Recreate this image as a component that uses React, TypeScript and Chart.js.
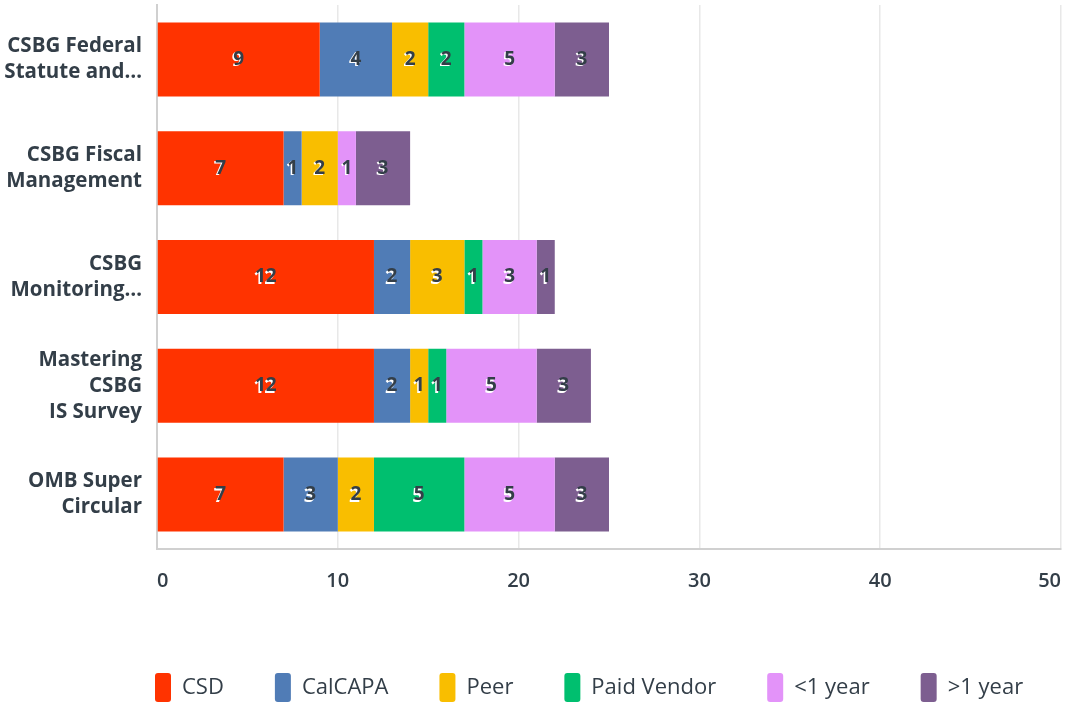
import React, { useEffect, useRef } from "react";
import { Chart, registerables } from "chart.js";

Chart.register(...registerables);

const categories: string[][] = [
  ["CSBG Federal", "Statute and…"],
  ["CSBG Fiscal", "Management"],
  ["CSBG", "Monitoring…"],
  ["Mastering", "CSBG", "IS Survey"],
  ["OMB Super", "Circular"],
];
const seriesNames = ["CSD", "CalCAPA", "Peer", "Paid Vendor", "<1 year", ">1 year"];
const seriesColors = ["#FF3300", "#507CB6", "#F9BE00", "#00BF6F", "#E393F9", "#7D5E90"];
const csd = [9, 7, 12, 12, 7];
const calcapa = [4, 1, 2, 2, 3];
const peer = [2, 2, 3, 1, 2];
const paidVendor = [2, 0, 1, 1, 5];
const lessOneYear = [5, 1, 3, 5, 5];
const moreOneYear = [3, 3, 1, 3, 3];
const xTicks = [0, 10, 20, 30, 40, 50];

const TEXT = "#333E48";
const FONT = "'Open Sans', 'Noto Sans', sans-serif";
const LEGEND_PAD = 51;

const labelPlugin = {
  id: "segLabels",
  beforeLayout(chart: any) {
    const lg = chart.legend;
    if (lg && !lg._patched) {
      const origFit = lg.fit.bind(lg);
      lg.fit = function () {
        origFit();
        this.height = 84;
      };
      const origDraw = lg.draw.bind(lg);
      lg.draw = function (...args: any[]) {
        const ctx = this.ctx;
        ctx.save();
        ctx.translate(155 - (this.left + LEGEND_PAD), 0);
        origDraw(...args);
        ctx.restore();
      };
      lg._patched = true;
    }
  },
  afterDatasetsDraw(chart: any) {
    const ctx = chart.ctx;
    ctx.save();
    ctx.font = `bold 19px ${FONT}`;
    ctx.textAlign = "center";
    ctx.textBaseline = "middle";
    chart.data.datasets.forEach((ds: any, i: number) => {
      const meta = chart.getDatasetMeta(i);
      meta.data.forEach((bar: any, j: number) => {
        const v = ds.data[j];
        if (!v) return;
        const x = (bar.x + bar.base) / 2;
        const y = bar.y;
        ctx.fillStyle = "#FFFFFF";
        ctx.fillText(String(v), x - 1.5, y + 1.5);
        ctx.fillStyle = TEXT;
        ctx.fillText(String(v), x, y);
      });
    });
    ctx.restore();
  },
};

export default function App() {
  const ref = useRef<HTMLCanvasElement | null>(null);
  useEffect(() => {
    if (!ref.current) return;
    const values = [csd, calcapa, peer, paidVendor, lessOneYear, moreOneYear];
    const chart = new Chart(ref.current, {
      type: "bar",
      data: {
        labels: categories,
        datasets: seriesNames.map((name, i) => ({
          label: name,
          data: values[i],
          backgroundColor: seriesColors[i],
          borderWidth: 0,
          barPercentage: 0.68,
          categoryPercentage: 1,
        })),
      },
      options: {
        indexAxis: "y",
        responsive: false,
        animation: false,
        layout: { padding: { left: 0, right: 7, top: 5, bottom: 0 } },
        plugins: {
          tooltip: { enabled: false },
          legend: {
            position: "bottom",
            align: "start",
            labels: {
              boxWidth: 16,
              boxHeight: 29,
              padding: LEGEND_PAD,
              color: TEXT,
              font: { family: FONT, size: 22 },
              useBorderRadius: true,
              borderRadius: 3,
            },
          },
        },
        scales: {
          x: {
            stacked: true,
            min: 0,
            max: 50,
            afterBuildTicks: (scale: any) => {
              scale.ticks = xTicks.map((v) => ({ value: v }));
            },
            afterFit: (scale: any) => {
              scale.height = 73;
              scale.paddingLeft = 0;
              scale.paddingRight = 0;
            },
            grid: { color: "#E8E8E8", lineWidth: 1.5, drawTicks: false },
            border: { color: "#D0D0D0", width: 2 },
            ticks: {
              color: TEXT,
              padding: 20,
              align: "inner",
              maxRotation: 0,
              font: { family: FONT, size: 20, weight: "600" },
            },
          },
          y: {
            stacked: true,
            afterFit: (scale: any) => {
              scale.width = 157;
              scale.paddingTop = 0;
              scale.paddingBottom = 0;
            },
            grid: { display: false, drawTicks: false },
            border: { color: "#D0D0D0", width: 2 },
            ticks: {
              color: TEXT,
              padding: 15,
              font: { family: FONT, size: 20.5, weight: "bold", lineHeight: 1.27 },
            },
          },
        },
      },
      plugins: [labelPlugin],
    } as any);
    return () => chart.destroy();
  }, []);
  return (
    <div style={{ position: "fixed", left: 0, top: 0, width: 1068, height: 706, background: "#fff" }}>
      <canvas ref={ref} width={1068} height={706} style={{ display: "block" }} />
    </div>
  );
}
